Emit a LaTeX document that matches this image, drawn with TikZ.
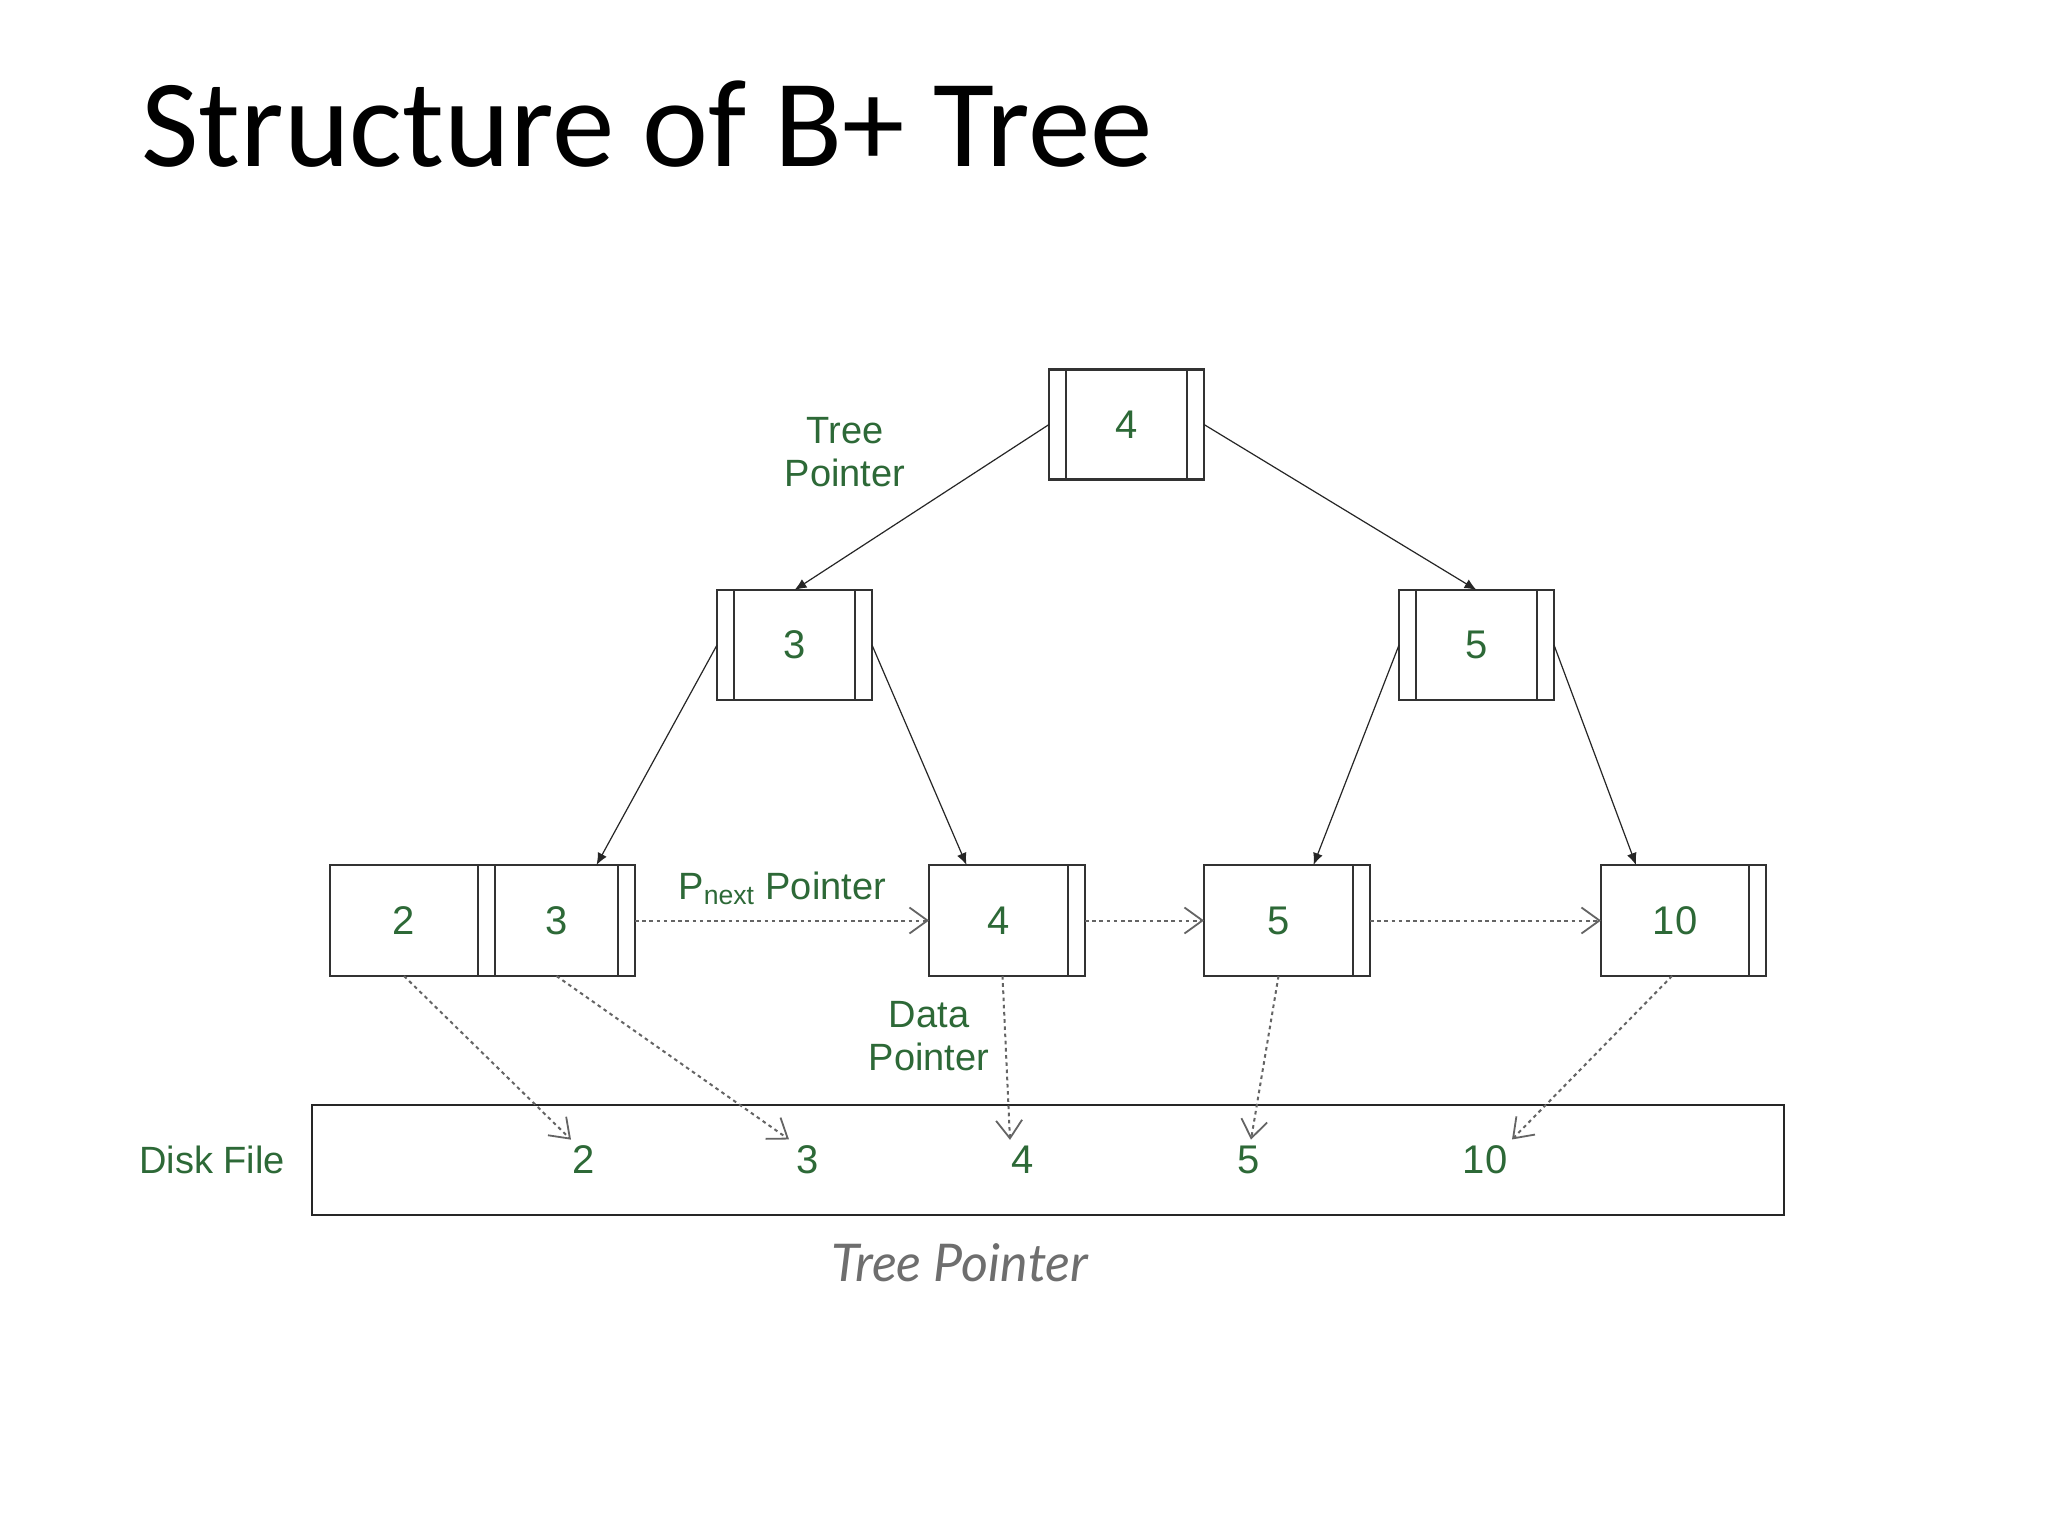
\documentclass[tikz,border=0pt]{standalone}
\usepackage{fontspec}
\setmainfont{Liberation Sans}
\newfontfamily\titlef{Carlito}
\newfontfamily\capf{Lato}
\usetikzlibrary{arrows.meta,calc}
\definecolor{lblgreen}{RGB}{45,105,55}
\definecolor{boxc}{RGB}{50,50,50}
\definecolor{dotc}{RGB}{100,100,100}
\definecolor{capc}{RGB}{110,110,110}
\begin{document}
\begin{tikzpicture}[x=0.5pt,y=-0.5pt,
  cell/.style={draw=boxc, line width=1.3pt, inner sep=0pt, outer sep=0pt, minimum height=55pt, text=lblgreen, font=\fontsize{20}{24}\selectfont},
  slot/.style={draw=boxc, line width=1.3pt, inner sep=0pt, outer sep=0pt, minimum height=55pt, minimum width=8.5pt},
  leafh/.style={minimum height=55.5pt},
  num/.style={text=lblgreen, font=\fontsize{20}{24}\selectfont, inner sep=0pt},
  lbl/.style={text=lblgreen, font=\fontsize{19}{21.5}\selectfont, align=center, inner sep=0pt},
  tptr/.style={-{Latex[length=6pt,width=5pt]}, line width=0.6pt, black!85},
  dptr/.style={-{Straight Barb[length=9pt,width=13pt,line width=0.9pt]}, line width=1pt, dotc, dash pattern=on 1.8pt off 1.8pt},
]
\fill[white] (0,0) rectangle (2048,1536);
\useasboundingbox (0,0) rectangle (2048,1536);

% title
\node[anchor=base west, inner sep=0pt, font=\titlef\fontsize{62.5}{70}\selectfont] (title) at (141,166) {Structure of B+ Tree};

% root
\node[cell, minimum width=60.5pt] (r) at (1126.5,424.5) {4};
\node[slot, anchor=east] (rl) at (r.west) {};
\node[slot, anchor=west] (rr) at (r.east) {};

% level 2
\node[cell, minimum width=60.5pt] (n3) at (794.5,645) {3};
\node[slot, anchor=east] (n3l) at (n3.west) {};
\node[slot, anchor=west] (n3r) at (n3.east) {};
\node[cell, minimum width=60.5pt] (n5) at (1476.5,645) {5};
\node[slot, anchor=east] (n5l) at (n5.west) {};
\node[slot, anchor=west] (n5r) at (n5.east) {};

% leaves
\node[cell, leafh, minimum width=74pt] (k2) at (404,920.5) {2};
\node[slot, leafh, anchor=west] (p2) at (k2.east) {};
\node[cell, leafh, minimum width=61.5pt, anchor=west] (k3) at (p2.east) {3};
\node[slot, leafh, anchor=west] (p3) at (k3.east) {};
\node[cell, leafh, minimum width=69.5pt] (k4) at (998.5,920.5) {4};
\node[slot, leafh, anchor=west] (p4) at (k4.east) {};
\node[cell, leafh, minimum width=74.5pt] (k5) at (1278.5,920.5) {5};
\node[slot, leafh, anchor=west] (p5) at (k5.east) {};
\node[cell, leafh, minimum width=74pt] (k10) at (1675,920.5) {10};
\node[slot, leafh, anchor=west] (p10) at (k10.east) {};

% disk file
\node[draw=black!85, line width=1pt, minimum width=736pt, minimum height=55pt, inner sep=0pt, outer sep=0pt] (disk) at (1048,1160) {};
\node[num] (d2) at (584,1160) {2};
\node[num] (d3) at (808,1160) {3};
\node[num] (d4) at (1023,1160) {4};
\node[num] (d5) at (1249,1160) {5};
\node[num] (d10) at (1485,1160) {10};

% labels
\node[lbl] (ltree) at (845,452) {Tree\\Pointer};
\node[lbl, anchor=base west] (lnext) at (678,899) {P\textsubscript{next} Pointer};
\node[lbl] (ldata) at (929,1036) {Data\\Pointer};
\node[lbl] (ldisk) at (212,1160) {Disk File};
\node[font=\capf\itshape\fontsize{26}{30}\selectfont, text=capc, inner sep=0pt] (cap) at (960,1263) {Tree Pointer};

% tree pointers
\draw[tptr] (rl.west) -- (n3.north);
\draw[tptr] (rr.east) -- (n5.north);
\draw[tptr] (n3l.west) -- ($(k3.north)+(40,0)$);
\draw[tptr] (n3r.east) -- ($(k4.north)+(-32,0)$);
\draw[tptr] (n5l.west) -- ($(k5.north)+(35,0)$);
\draw[tptr] (n5r.east) -- ($(k10.north)+(-39,0)$);

% next pointers
\draw[dptr] (p3.east) -- (k4.west);
\draw[dptr] (p4.east) -- (k5.west);
\draw[dptr] (p5.east) -- (k10.west);

% data pointers
\draw[dptr] (k2.south) -- ($(d2.north)+(-13,-6)$);
\draw[dptr] (k3.south) -- ($(d3.north)+(-19,-6)$);
\draw[dptr] ($(k4.south)+(4,0)$) -- ($(d4.north)+(-13,-6)$);
\draw[dptr] (k5.south) -- ($(d5.north)+(2,-6)$);
\draw[dptr] ($(k10.south)+(-3,0)$) -- ($(d10.north)+(27,-6)$);
\end{tikzpicture}
\end{document}
